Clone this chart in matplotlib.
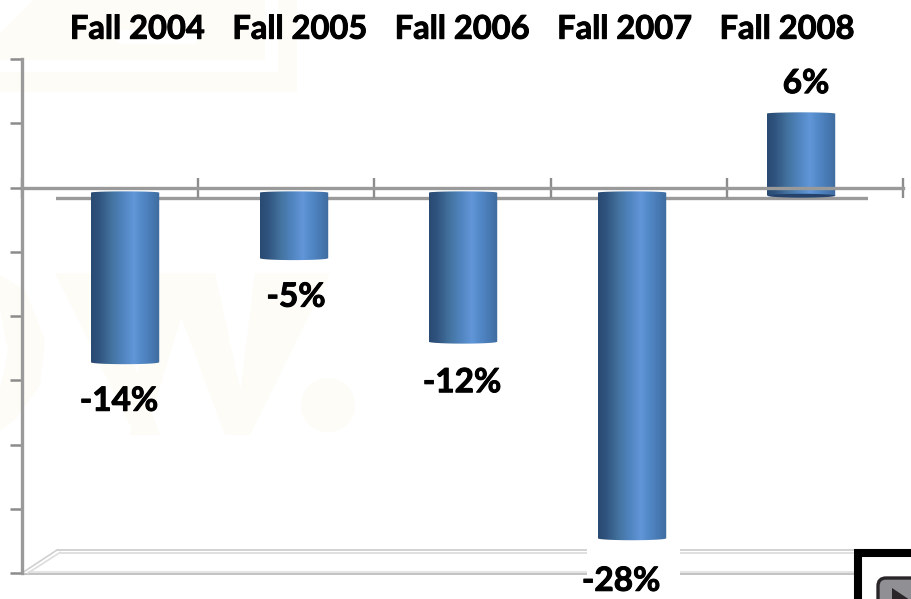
import numpy as np
import matplotlib
matplotlib.use("Agg")
import matplotlib.pyplot as plt
import matplotlib.patheffects as pe
from matplotlib.colors import LinearSegmentedColormap
from matplotlib.patches import Polygon, Circle, Rectangle, FancyBboxPatch

terms = ["Fall 2004", "Fall 2005", "Fall 2006", "Fall 2007", "Fall 2008"]
change = [-13.6, -5.5, -12.0, -27.3, 5.75]  # bar ends
labels = ["-14%", "-5%", "-12%", "-28%", "6%"]
y_ticks = [10, 5, 0, -5, -10, -15, -20, -25, -30]

W, H = 912, 599
GREY = "#9a9a9a"
CREAM = "#fefcf6"
plt.rcParams["font.family"] = ["Lato", "DejaVu Sans"]
plt.rcParams["font.weight"] = "bold"
heavy = [pe.withStroke(linewidth=0.7, foreground="black")]

fig = plt.figure(figsize=(W / 100, H / 100), dpi=100, facecolor="white")


def axes_px(x0, x1, y0, y1, z):
    a = fig.add_axes([x0 / W, 1 - y1 / H, (x1 - x0) / W, (y1 - y0) / H], zorder=z)
    a.patch.set_alpha(0)
    return a


def pixel_axes(z):
    a = axes_px(0, W, 0, H, z)
    a.set_xlim(0, W)
    a.set_ylim(H, 0)
    a.axis("off")
    return a


# pale watermark behind the chart
bg = pixel_axes(-5)
bg.add_patch(Rectangle((0, 0), 297, 92, fc=CREAM, ec="none"))
bg.add_patch(Polygon([(0, 0), (278, 0), (278, 72), (0, 72)], fc="white", ec="none"))
bg.add_patch(Polygon([(0, 33), (33, 0), (265, 0), (265, 60), (0, 60)], fc=CREAM, ec="none"))
bg.add_patch(Polygon([(105, 30), (205, 30), (195, 44), (120, 44)], fc="white", ec="none"))
for pts in [
    [(55, 273), (100, 273), (160, 435), (135, 435)],
    [(165, 273), (215, 273), (250, 435), (225, 435)],
    [(150, 273), (195, 273), (145, 435), (130, 435)],
    [(255, 273), (330, 273), (250, 435), (235, 435)],
]:
    bg.add_patch(Polygon(pts, fc=CREAM, ec="none"))
bg.add_patch(Circle((328, 405), 27, fc=CREAM, ec="none"))
bg.add_patch(Polygon([(0, 275), (25, 290), (45, 340), (40, 385), (15, 420), (0, 430), (0, 390), (8, 350), (0, 310)], fc=CREAM, ec="none"))

# floor of the 3D chart, broken by the -28% label
for yy, x_start, c in [(550, 57, "#cfcfcf"), (552.5, 60, "#dddddd"), (571.5, 28, "#e2e2e2"), (574, 22, "#bdbdbd")]:
    bg.plot([x_start, 587], [yy, yy], color=c, lw=1.3, solid_capstyle="butt")
    bg.plot([680, 854], [yy, yy], color=c, lw=1.3, solid_capstyle="butt")
bg.plot([22, 57], [573, 550], color="#d0d0d0", lw=1.2)
bg.plot([28, 60], [573, 552.5], color="#dddddd", lw=1.2)

# back wall axis, carries the category names
back = axes_px(56, 868, 59, 573, 1)
back.set_xlim(-0.5, 4.5)
back.set_ylim(-30, 10)
for s in back.spines.values():
    s.set_visible(False)
back.yaxis.set_visible(False)
back.xaxis.tick_top()
back.set_xticks(range(5))
back.set_xticklabels(terms, fontsize=23.5, fontweight="bold", path_effects=heavy)
back.tick_params(axis="x", length=0, pad=11)
back.axhline(-0.85, color=GREY, lw=2.4)

# cylinders
ax = axes_px(40.5, 885.5, 59, 573, 2)
ax.set_xlim(-0.5, 4.5)
ax.set_ylim(-30, 10)
ax.axis("off")
cyl = LinearSegmentedColormap.from_list("cyl", [
    (0.0, "#294a73"), (0.12, "#30547f"), (0.3, "#44739f"), (0.45, "#4f83bd"),
    (0.62, "#6196d8"), (0.78, "#4f84c2"), (1.0, "#3f6c9f")])
grad = np.linspace(0, 1, 256).reshape(1, -1)
bar_w = 0.405
for i, v in enumerate(change):
    hi = v if v > 0 else -0.4
    lo = -0.6 if v > 0 else v
    ax.bar(i, hi - lo, bottom=lo, width=bar_w, color="#4f83bd", zorder=2)
    xs = np.linspace(i - bar_w / 2, i + bar_w / 2, 60)
    bulge = np.sqrt(np.clip(1 - ((xs - i) / (bar_w / 2)) ** 2, 0, 1))
    upper = hi + 0.1 * bulge
    lower = lo - 0.15 * bulge
    path = Polygon(np.r_[np.c_[xs, upper], np.c_[xs[::-1], lower[::-1]]], transform=ax.transData, fc="none", ec="none")
    ax.add_patch(path)
    im = ax.imshow(grad, extent=[i - bar_w / 2, i + bar_w / 2, lo - 0.3, hi + 0.3], cmap=cyl, aspect="auto", zorder=3)
    im.set_clip_path(path)
    if v > 0:
        ax.fill_between(xs, lower, lo + 0.15 * bulge, color="#24426c", zorder=4, lw=0)
ax.set_xlim(-0.5, 4.5)
ax.set_ylim(-30, 10)

# front axis lines
main = axes_px(22, 903, 59, 573, 3)
main.set_xlim(0, 5)
main.set_ylim(-30, 10)
main.spines["top"].set_visible(False)
main.spines["right"].set_visible(False)
main.spines["left"].set_color(GREY)
main.spines["left"].set_linewidth(2.4)
main.spines["bottom"].set_position(("data", 0))
main.spines["bottom"].set_color(GREY)
main.spines["bottom"].set_linewidth(2.4)
main.set_yticks(y_ticks)
main.set_xticks(range(6))
main.tick_params(axis="y", length=8.6, width=1.8, color="#8c8c8c", labelleft=False, direction="out")
main.tick_params(axis="x", length=15, width=1.7, color="#8c8c8c", labelbottom=False, direction="inout")

# value labels sit on top of everything
lab_offset = [(-6, -39), (2, -39), (-1, -41), (-11, -43), (5, 30)]
top_ax = axes_px(40.5, 885.5, 59, 573, 4)
top_ax.set_xlim(-0.5, 4.5)
top_ax.set_ylim(-30, 10)
top_ax.axis("off")
for i, (v, t, off) in enumerate(zip(change, labels, lab_offset)):
    top_ax.annotate(t, (i, v), xytext=(off[0] * 0.72, off[1] * 0.72), textcoords="offset points",
                    ha="center", va="center", fontsize=24, fontweight="bold", color="black", path_effects=heavy)

# corner of the slide's play button
fr = pixel_axes(6)
fr.plot([858, 858], [H + 5, 553], color="black", lw=5.8, solid_capstyle="butt")
fr.plot([854, W + 5], [553, 553], color="black", lw=5.8, solid_capstyle="butt")
fr.add_patch(FancyBboxPatch((878, 578), 60, 60, boxstyle="round,pad=0,rounding_size=8", fc="#8f8f94", ec="#2a2528", lw=2.4))
fr.add_patch(Polygon([(892, 588), (892, 610), (925, 610)], fc="#2a2528", ec="none"))

fig.savefig("out.png", dpi=100)
